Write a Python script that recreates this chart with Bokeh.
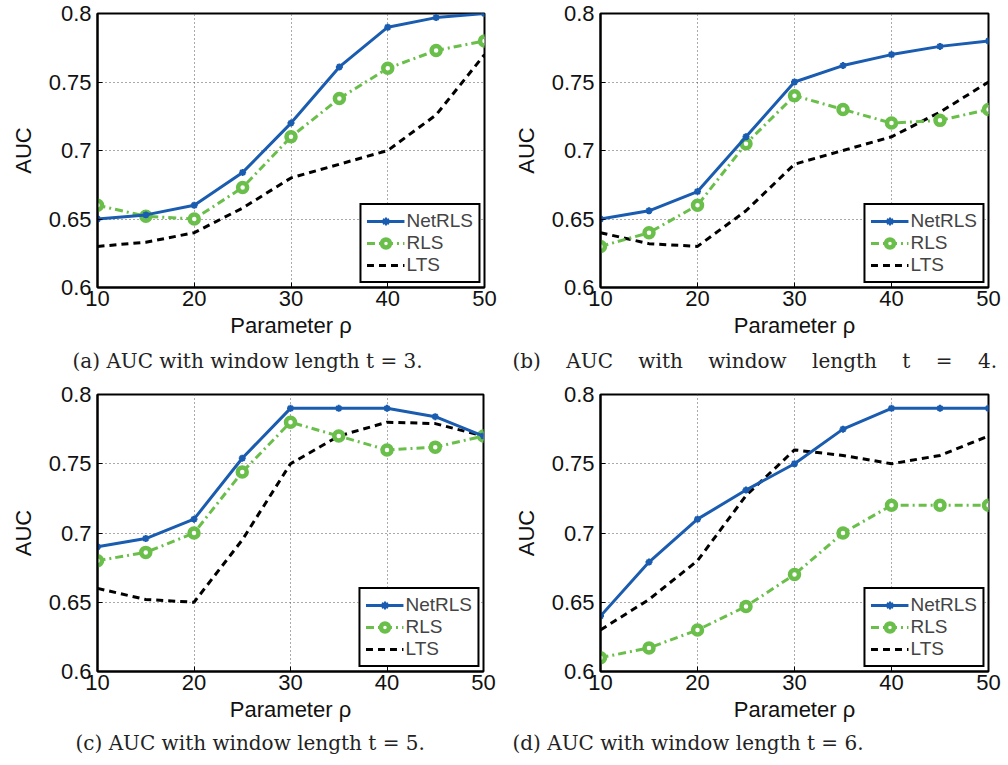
from bokeh.plotting import figure
from bokeh.layouts import column, row
from bokeh.models import Range1d, FixedTicker, Title
from bokeh.embed import file_html
from bokeh.resources import INLINE

# ---- data ----
rho = [10, 15, 20, 25, 30, 35, 40, 45, 50]

netrls_t3 = [0.650, 0.653, 0.660, 0.684, 0.720, 0.761, 0.790, 0.797, 0.800]
rls_t3 = [0.660, 0.652, 0.650, 0.673, 0.710, 0.738, 0.760, 0.773, 0.780]
lts_t3 = [0.630, 0.633, 0.640, 0.658, 0.680, 0.690, 0.700, 0.726, 0.770]

netrls_t4 = [0.650, 0.656, 0.670, 0.710, 0.750, 0.762, 0.770, 0.776, 0.780]
rls_t4 = [0.630, 0.640, 0.660, 0.705, 0.740, 0.730, 0.720, 0.722, 0.730]
lts_t4 = [0.640, 0.632, 0.630, 0.656, 0.690, 0.700, 0.710, 0.728, 0.750]

netrls_t5 = [0.690, 0.696, 0.710, 0.754, 0.790, 0.790, 0.790, 0.784, 0.770]
rls_t5 = [0.680, 0.686, 0.700, 0.744, 0.780, 0.770, 0.760, 0.762, 0.770]
lts_t5 = [0.660, 0.652, 0.650, 0.695, 0.750, 0.770, 0.780, 0.779, 0.770]

netrls_t6 = [0.640, 0.679, 0.710, 0.731, 0.750, 0.775, 0.790, 0.790, 0.790]
rls_t6 = [0.610, 0.617, 0.630, 0.647, 0.670, 0.700, 0.720, 0.720, 0.720]
lts_t6 = [0.630, 0.652, 0.680, 0.727, 0.760, 0.756, 0.750, 0.756, 0.770]

x_ticks = [10, 20, 30, 40, 50]
y_ticks = [0.6, 0.65, 0.7, 0.75, 0.8]
y_tick_labels = ["0.6", "0.65", "0.7", "0.75", "0.8"]
series_names = ["NetRLS", "RLS", "LTS"]

NBSP = "\u00a0"
gap = NBSP * 4
captions = [
    "(a) AUC with window length t = 3.",
    gap.join(["(b)", "AUC", "with", "window", "length", "t", "=", "4."]),
    "(c) AUC with window length t = 5.",
    "(d) AUC with window length t = 6.",
]

BLUE = "#1a5cb0"
GREEN = "#6abf4b"
SANS = "Liberation Sans"


def make_panel(net, rls, lts, caption, width, height, left, right, top, bottom,
               cap_offset, cap_standoff):
    p = figure(width=width, height=height, output_backend="svg", toolbar_location=None,
               x_range=Range1d(10, 50), y_range=Range1d(0.6, 0.8),
               min_border_left=left, min_border_right=right,
               min_border_top=top, min_border_bottom=bottom)
    p.background_fill_color = "white"
    p.border_fill_color = "white"
    p.outline_line_color = "black"
    p.outline_line_width = 2
    p.outline_line_alpha = 1.0

    p.xaxis.ticker = FixedTicker(ticks=x_ticks)
    p.yaxis.ticker = FixedTicker(ticks=y_ticks)
    p.yaxis.major_label_overrides = {v: s for v, s in zip(y_ticks, y_tick_labels)}
    for ax in (p.xaxis[0], p.yaxis[0]):
        ax.axis_line_width = 2
        ax.axis_line_color = "black"
        ax.major_tick_in = 5
        ax.major_tick_out = 0
        ax.major_tick_line_width = 1
        ax.minor_tick_line_color = None
        ax.major_label_text_font = SANS
        ax.major_label_text_font_size = "22px"
        ax.major_label_text_color = "#111111"
        ax.axis_label_text_font = SANS
        ax.axis_label_text_font_size = "22px"
        ax.axis_label_text_font_style = "normal"
        ax.axis_label_text_color = "#111111"
    p.xaxis.axis_label = "Parameter ρ"
    p.yaxis.axis_label = "AUC"
    p.xaxis.major_label_standoff = 3
    p.xaxis.axis_label_standoff = 4
    p.yaxis.major_label_standoff = 6
    p.yaxis.axis_label_standoff = 10

    p.grid.grid_line_color = "#555555"
    p.grid.grid_line_dash = "1 3"
    p.grid.grid_line_width = 1

    p.line(rho, lts, color="black", line_width=3, line_dash="7 5", legend_label=series_names[2])

    p.line(rho, rls, color=GREEN, line_width=3, line_dash="8 4 2 4", legend_label=series_names[1])
    p.scatter(rho, rls, marker="circle", size=9, line_color=GREEN, line_width=4.5,
              fill_color="white", legend_label=series_names[1])

    p.line(rho, net, color=BLUE, line_width=3, legend_label=series_names[0])
    p.scatter(rho, net, marker="asterisk", size=7, line_color=BLUE, line_width=2,
              legend_label=series_names[0])

    # legend order: NetRLS, RLS, LTS
    items = p.legend[0].items
    order = {n: i for i, n in enumerate(series_names)}
    p.legend[0].items = sorted(items, key=lambda it: order[it.label.value])

    lg = p.legend[0]
    lg.location = "bottom_right"
    lg.margin = 4
    lg.padding = 5
    lg.spacing = 0
    lg.border_line_color = "black"
    lg.border_line_width = 2
    lg.border_line_alpha = 1.0
    lg.background_fill_alpha = 1.0
    lg.label_text_font = SANS
    lg.label_text_font_size = "19px"
    lg.label_standoff = 2
    lg.glyph_width = 38
    lg.glyph_height = 20
    lg.label_height = 20

    t = Title(text=caption, align="left", offset=cap_offset, standoff=cap_standoff,
              text_font="DejaVu Serif", text_font_style="normal", text_font_size="20px",
              text_color="#222222")
    p.add_layout(t, "below")
    return p


pa = make_panel(netrls_t3, rls_t3, lts_t3, captions[0], 500, 380, 97, 16, 7, 93, -25, 13)
pb = make_panel(netrls_t4, rls_t4, lts_t4, captions[1], 508, 380, 100, 20, 13, 88, -88, 13)
pc = make_panel(netrls_t5, rls_t5, lts_t5, captions[2], 500, 385, 97, 17, 14, 94, -22, 8)
pd = make_panel(netrls_t6, rls_t6, lts_t6, captions[3], 508, 385, 100, 20, 14, 94, -88, 8)

layout = column(row(pa, pb, spacing=0), row(pc, pd, spacing=0), spacing=0)

open("out.html", "w").write(file_html(layout, INLINE))
